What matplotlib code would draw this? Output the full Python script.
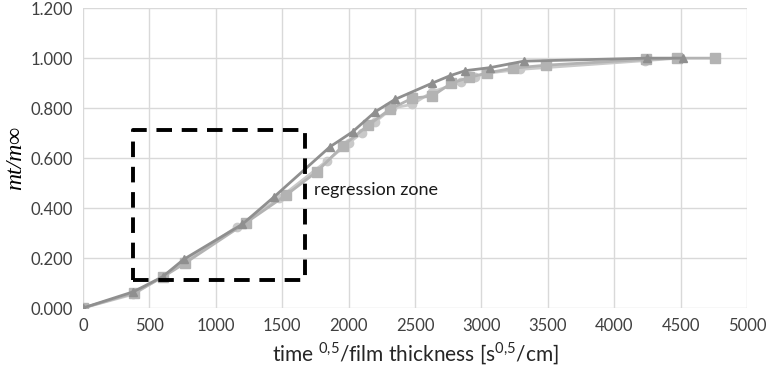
import matplotlib
matplotlib.use('Agg')
import matplotlib.pyplot as plt

plt.rcParams['font.family'] = ['Lato', 'DejaVu Sans']
plt.rcParams['mathtext.fontset'] = 'custom'
plt.rcParams['mathtext.rm'] = 'Lato'

# data
tri_x = [0, 380, 600, 760, 1200, 1440, 1860, 2030, 2200, 2350, 2630, 2765, 2880, 3065, 3320, 4250, 4520]
tri_y = [0, 0.065, 0.125, 0.195, 0.335, 0.445, 0.645, 0.705, 0.785, 0.835, 0.900, 0.930, 0.950, 0.962, 0.988, 1.000, 1.000]

circ_x = [0, 380, 600, 760, 1160, 1480, 1840, 2000, 2100, 2200, 2330, 2480, 2630, 2850, 2950, 3045, 3290, 4230, 4480]
circ_y = [0, 0.055, 0.125, 0.185, 0.325, 0.440, 0.590, 0.660, 0.700, 0.745, 0.800, 0.815, 0.865, 0.905, 0.925, 0.940, 0.955, 0.990, 1.000]

sq_x = [0, 385, 605, 770, 1230, 1530, 1760, 1960, 2150, 2310, 2480, 2630, 2775, 2910, 3045, 3240, 3490, 4240, 4470, 4760]
sq_y = [0, 0.060, 0.125, 0.180, 0.342, 0.452, 0.545, 0.650, 0.732, 0.795, 0.840, 0.848, 0.900, 0.923, 0.941, 0.960, 0.972, 0.995, 1.000, 1.000]

# regression zone box (x range, y range)
zone_x = [376, 1672]
zone_y = [0.112, 0.712]

fig = plt.figure(figsize=(7.67, 3.72), dpi=100)
ax = fig.add_axes([0.108, 0.172, 0.866, 0.806])

ax.plot(circ_x, circ_y, color='#c9c9c9', marker='o', ms=6, lw=2, zorder=3)
ax.plot(sq_x, sq_y, color='#b3b3b3', marker='s', ms=7, lw=2, zorder=4)
ax.plot(tri_x, tri_y, color='#8f8f8f', marker='^', ms=6, lw=2, zorder=5)

ax.plot([zone_x[0], zone_x[1], zone_x[1], zone_x[0], zone_x[0]],
        [zone_y[0], zone_y[0], zone_y[1], zone_y[1], zone_y[0]],
        color='black', ls=(0, (4, 2.5)), lw=2.8, zorder=6)
ax.text(1740, 0.472, 'regression zone', fontsize=13, va='center', ha='left', color='#1a1a1a')

ax.set_xlim(0, 5000)
ax.set_ylim(0, 1.2)
ax.set_xticks(range(0, 5001, 500))
ax.set_yticks([i * 0.2 for i in range(7)])
ax.set_yticklabels([f'{i * 0.2:.3f}' for i in range(7)])
ax.grid(True, color='#d9d9d9', lw=1)
ax.set_axisbelow(True)
for s in ax.spines.values():
    s.set_visible(False)
ax.tick_params(length=0, labelsize=12, colors='#404040', pad=7)

ax.set_xlabel(r'time $^{0{,}5}$/film thickness [s$^{0{,}5}$/cm]', fontsize=15, color='#262626', labelpad=5)
ax.set_ylabel('mt/m∞', fontsize=17, family=['Liberation Serif', 'DejaVu Serif'], style='italic', labelpad=3)

fig.savefig('out.png', dpi=100)
